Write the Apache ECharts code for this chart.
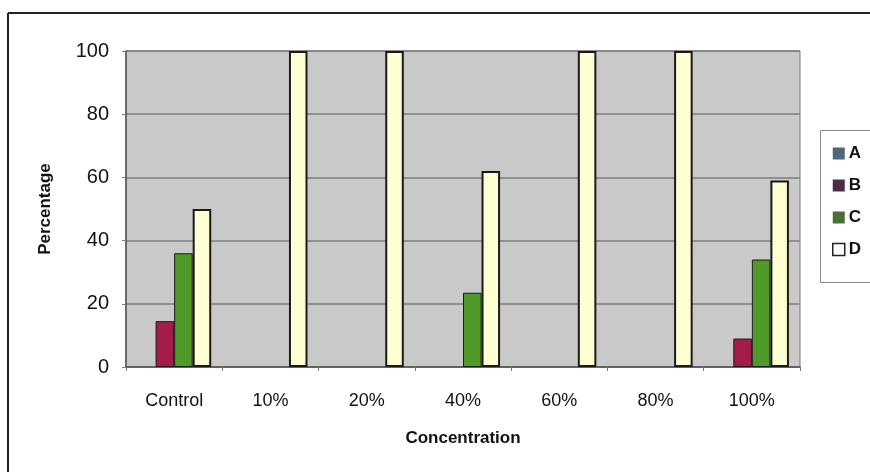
<!DOCTYPE html>
<html>
<head>
<meta charset="utf-8">
<script src="https://cdn.jsdelivr.net/npm/echarts@6/dist/echarts.min.js"></script>
<style>
  html, body { margin: 0; padding: 0; background: #fff; }
  #chart { width: 870px; height: 472px; }
</style>
</head>
<body>
<div id="chart"></div>
<script>
// Category labels along the x axis
const categories = ['Control', '10%', '20%', '40%', '60%', '80%', '100%'];
// Percentage values per series
const seriesA = [0, 0, 0, 0, 0, 0, 0];
const seriesB = [14.5, 0, 0, 0, 0, 0, 9];
const seriesC = [36, 0, 0, 23.5, 0, 0, 34];
const seriesD = [50, 100, 100, 62, 100, 100, 59];
const seriesNames = ['A', 'B', 'C', 'D'];
const yTicks = [0, 20, 40, 60, 80, 100];

const fills = ['#4e6a80', '#a31d4a', '#4f9a28', '#ffffd2'];
const legendFills = ['#4e6878', '#4e2c46', '#4a6e36', '#ffffff'];
const font = 'Arial, "Liberation Sans", sans-serif';

const chart = echarts.init(document.getElementById('chart'));

const dataSets = [seriesA, seriesB, seriesC, seriesD];
const series = dataSets.map((vals, i) => ({
  name: seriesNames[i],
  type: 'bar',
  // zero-height bars carry no outline, so nothing shows for them
  data: vals.map(v => (v === 0 ? { value: v, itemStyle: { borderWidth: 0 } } : v)),
  barGap: '0%',
  barCategoryGap: '23%',
  itemStyle: {
    color: fills[i],
    borderColor: '#1a1a1a',
    borderWidth: i === 3 ? 2 : 1
  },
  emphasis: { disabled: true }
}));

chart.setOption({
  animation: false,
  backgroundColor: '#ffffff',
  grid: { left: 126, right: 70, top: 51, bottom: 105, containLabel: false, show: true,
          backgroundColor: '#c9c9c9', borderColor: '#7a7a7a', borderWidth: 1 },
  legend: {
    orient: 'vertical',
    left: 827, top: 140,
    itemGap: 15,
    itemWidth: 12, itemHeight: 12,
    icon: 'rect',
    textStyle: { fontFamily: font, fontWeight: 'bold', fontSize: 17, color: '#111', padding: [0, 0, 0, -1] },
    data: seriesNames.map((n, i) => ({
      name: n,
      itemStyle: { color: legendFills[i], borderColor: '#222', borderWidth: i === 3 ? 1.5 : 0 }
    }))
  },
  xAxis: {
    type: 'category',
    data: categories,
    name: 'Concentration',
    nameLocation: 'middle',
    nameGap: 63,
    nameTextStyle: { fontFamily: font, fontWeight: 'bold', fontSize: 17, color: '#111' },
    axisLine: { lineStyle: { color: '#555', width: 1.5 } },
    axisTick: { show: true, length: 4, lineStyle: { color: '#777' } },
    axisLabel: { fontFamily: font, fontSize: 18, color: '#111', margin: 25 },
    splitLine: { show: false }
  },
  yAxis: {
    type: 'value',
    min: yTicks[0], max: yTicks[yTicks.length - 1], interval: 20,
    name: 'Percentage',
    nameLocation: 'middle',
    nameGap: 72,
    nameTextStyle: { fontFamily: font, fontWeight: 'bold', fontSize: 17, color: '#111' },
    axisLine: { show: true, lineStyle: { color: '#555', width: 1.5 } },
    axisTick: { show: true, length: 4, lineStyle: { color: '#777' } },
    axisLabel: { fontFamily: font, fontSize: 20, color: '#111', margin: 17 },
    splitLine: { show: true, lineStyle: { color: '#7c7c7c', width: 1.5 } }
  },
  graphic: [
    // chart frame edges
    { type: 'line', shape: { x1: 8, y1: 13, x2: 870, y2: 13 }, style: { stroke: '#222', lineWidth: 2 } },
    { type: 'line', shape: { x1: 8, y1: 13, x2: 8, y2: 472 }, style: { stroke: '#222', lineWidth: 2 } },
    // legend box
    { type: 'rect', shape: { x: 820.5, y: 130.5, width: 60, height: 152 },
      style: { fill: '#ffffff', stroke: '#888', lineWidth: 1 }, z: -1 }
  ],
  series: series
});
</script>
</body>
</html>
